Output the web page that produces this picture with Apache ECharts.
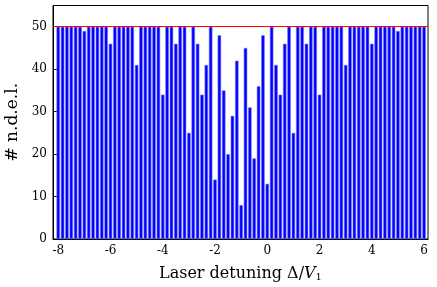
<!DOCTYPE html>
<html>
<head>
<meta charset="utf-8">
<script src="https://cdn.jsdelivr.net/npm/echarts@6/dist/echarts.min.js"></script>
<style>html,body{margin:0;padding:0;background:#fff;}#c{width:437px;height:287px;}</style>
</head>
<body>
<div id="c"></div>
<script>
// Data
var xStart = -8;          // first detuning value
var xStep = 1 / 6;        // spacing between detuning values
var counts = [
  50,50,50,50,50,50,49,50,50,50,50,50,46,50,50,50,50,50,41,50,
  50,50,50,50,34,50,50,46,50,50,25,50,46,34,41,50,14,48,35,20,
  29,42,8,45,31,19,36,48,13,50,41,34,46,50,25,50,50,46,50,50,
  34,50,50,50,50,50,41,50,50,50,50,50,46,50,50,50,50,50,49,50,
  50,50,50,50,50
];
var xTicks = [-8, -6, -4, -2, 0, 2, 4, 6];
var yTicks = [0, 10, 20, 30, 40, 50];
var maxLine = 50;

var data = counts.map(function (v, i) { return [xStart + i * xStep, v]; });

var chart = echarts.init(document.getElementById('c'), null, {renderer: 'canvas'});
var font = 'DejaVu Serif';
chart.setOption({
  animation: false,
  backgroundColor: '#fff',
  grid: {left: 53, right: 9, top: 5.5, bottom: 48, outerBoundsMode: 'none', containLabel: false,
    show: true, borderColor: '#000', borderWidth: 1, backgroundColor: 'transparent'},
  xAxis: {
    type: 'value', min: -8.2, max: 6.15,
    axisLine: {show: true, onZero: false, lineStyle: {color: '#000', width: 1}},
    axisTick: {show: true, inside: true, length: 5, customValues: xTicks, lineStyle: {color: '#000', width: 1}},
    axisLabel: {customValues: xTicks, color: '#000', fontFamily: font, fontSize: 12, margin: 6,
      formatter: function (v) { return String(v); }},
    splitLine: {show: false},
    name: 'Laser detuning Δ/{i|V}{s|1}',
    nameLocation: 'middle', nameGap: 26,
    nameTextStyle: {color: '#000', fontFamily: font, fontSize: 16,
      rich: {
        i: {fontFamily: font, fontSize: 16, fontStyle: 'italic', color: '#000'},
        s: {fontFamily: font, fontSize: 10, color: '#000', verticalAlign: 'bottom', padding: [7, 0, 0, 0]}
      }}
  },
  yAxis: {
    type: 'value', min: 0, max: 55,
    axisLine: {show: true, onZero: false, lineStyle: {color: '#000', width: 1}},
    axisTick: {show: true, inside: true, length: 5, customValues: yTicks, lineStyle: {color: '#000', width: 1}},
    axisLabel: {customValues: yTicks, color: '#000', fontFamily: font, fontSize: 12, margin: 6},
    splitLine: {show: false},
    name: '# n.d.e.l.', nameLocation: 'middle', nameGap: 32, nameRotate: 90,
    nameTextStyle: {color: '#000', fontFamily: font, fontSize: 17}
  },
  series: [{
    type: 'bar',
    data: data,
    barWidth: 3.5,
    itemStyle: {color: '#0000ff', borderColor: '#7878ff', borderWidth: 0.6},
    markLine: {
      silent: true, symbol: 'none', label: {show: false},
      lineStyle: {color: '#ff0000', width: 1, type: 'solid'},
      data: [{yAxis: maxLine}]
    }
  }]
});
</script>
</body>
</html>
